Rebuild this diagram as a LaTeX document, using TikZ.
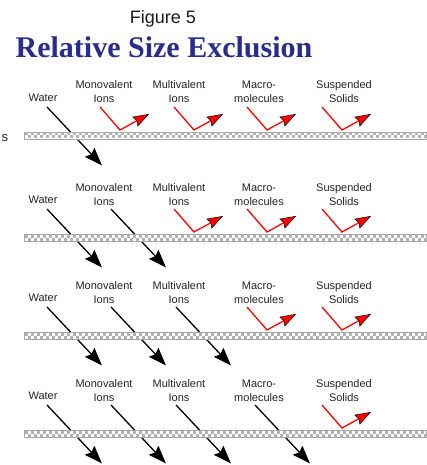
\documentclass[tikz,border=0pt]{standalone}
\usepackage{fontspec}
\setmainfont{Liberation Sans}
\newfontfamily\titlefont{Liberation Serif}
\usetikzlibrary{arrows.meta}
\definecolor{titleblue}{RGB}{40,44,140}
\definecolor{lbl}{RGB}{35,35,35}
\tikzset{
  lab/.style={font=\fontsize{11}{14}\selectfont, text=lbl, align=center, anchor=base, inner sep=0pt},
  pass/.style={line width=1.3pt, black, -{Stealth[length=18pt,width=13pt,inset=2.5pt]}},
  reject/.style={line width=1.3pt, red, -{Stealth[length=16pt,width=11pt,inset=2pt,color=black,fill=red,line width=0.5pt]}},
  memb/.style={fill=white, draw=black!35, line width=0.8pt, inner sep=0pt, minimum width=402pt, minimum height=7pt, anchor=west},
  chk/.style={fill=black!30},
}
\newcommand\passarr[3]{%
  \coordinate (#1s) at (#2,#3-28.5);
  \coordinate (#1e) at (#2+55,#3+30);
  \draw[pass] (#1s) -- (#1e);}
\newcommand\rejarr[3]{%
  \coordinate (#1s) at (#2,#3-28.5);
  \coordinate (#1b) at (#2+20,#3-5.5);
  \coordinate (#1e) at (#2+49,#3-21.5);
  \draw[reject] (#1s) -- (#1b) -- (#1e);}
\newcommand\membrow[2]{%
  \node[memb] (#1) at (24,#2) {};
  \foreach \k in {0,...,66} {
    \fill[chk] (24.5+6*\k,#2-3) rectangle ++(3,3);
    \fill[chk] (27.5+6*\k,#2) rectangle ++(3,3);
  }}
\newcommand\labrow[2]{%
  \node[lab] (water#1) at (43,#2-34) {Water};
  \node[lab] (mono#1) at (104,#2-32.5) {Monovalent\\Ions};
  \node[lab] (multi#1) at (179,#2-32.5) {Multivalent\\Ions};
  \node[lab] (macro#1) at (259,#2-32.5) {Macro-\\molecules};
  \node[lab] (susp#1) at (344,#2-32.5) {Suspended\\Solids};}
\begin{document}
\begin{tikzpicture}[x=1pt,y=-1pt]
\useasboundingbox (0,0) rectangle (427,465);
\node[font=\fontsize{18}{18}\selectfont, text=black!90, anchor=base, inner sep=0pt] (fig) at (163,24) {Figure 5};
\node[font=\titlefont\bfseries\fontsize{30}{30}\selectfont, text=titleblue, anchor=base, inner sep=0pt] (title) at (164,58) {Relative Size Exclusion};
\node[font=\fontsize{13}{13}\selectfont, text=lbl, anchor=base, inner sep=0pt] (memlabel) at (5,141.4) {s};
% row 1
\labrow{1}{135.5}
\passarr{wa1}{47}{135.5}
\rejarr{mo1}{100}{135.5}
\rejarr{mu1}{174}{135.5}
\rejarr{ma1}{247}{135.5}
\rejarr{su1}{322}{135.5}
\membrow{mem1}{135.5}
% row 2
\labrow{2}{237.5}
\passarr{wa2}{47}{237.5}
\passarr{mo2}{111}{237.5}
\rejarr{mu2}{174}{237.5}
\rejarr{ma2}{247}{237.5}
\rejarr{su2}{322}{237.5}
\membrow{mem2}{237.5}
% row 3
\labrow{3}{335.5}
\passarr{wa3}{47}{335.5}
\passarr{mo3}{111}{335.5}
\passarr{mu3}{176}{335.5}
\rejarr{ma3}{247}{335.5}
\rejarr{su3}{322}{335.5}
\membrow{mem3}{335.5}
% row 4
\labrow{4}{433.5}
\passarr{wa4}{47}{433.5}
\passarr{mo4}{111}{433.5}
\passarr{mu4}{176}{433.5}
\passarr{ma4}{255}{433.5}
\rejarr{su4}{322}{433.5}
\membrow{mem4}{433.5}
\end{tikzpicture}
\end{document}
